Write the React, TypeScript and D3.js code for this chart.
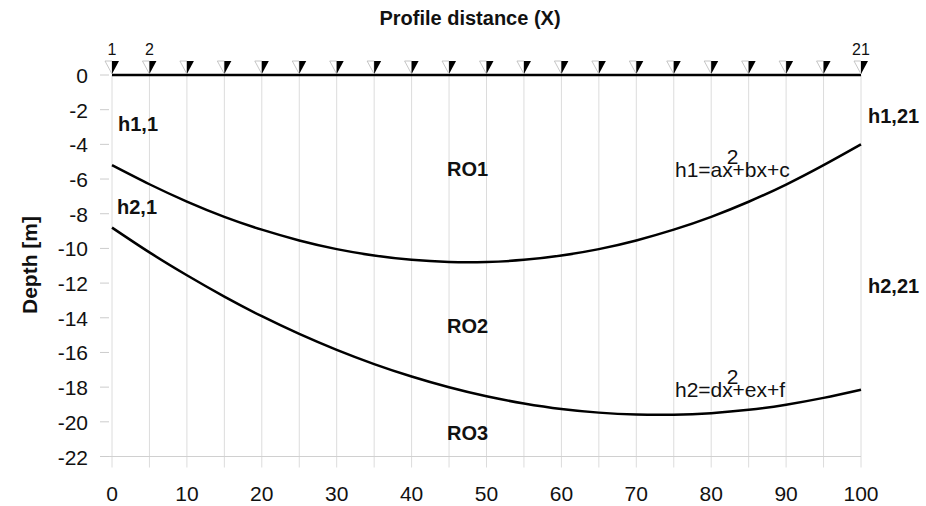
import React from 'react';
import * as d3 from 'd3';

// profile positions (x) and the two boundary depths
const xs = [0, 5, 10, 15, 20, 25, 30, 35, 40, 45, 50, 55, 60, 65, 70, 75, 80, 85, 90, 95, 100];
const h1 = [-5.2, -6.3, -7.3, -8.18, -8.92, -9.54, -10.04, -10.41, -10.66, -10.78, -10.78, -10.66, -10.41, -10.04, -9.54, -8.92, -8.18, -7.31, -6.32, -5.2, -4.0];
const h2 = [-8.8, -10.23, -11.55, -12.78, -13.91, -14.93, -15.85, -16.67, -17.39, -18.01, -18.53, -18.94, -19.26, -19.47, -19.58, -19.59, -19.5, -19.31, -19.01, -18.62, -18.15];
const xTicks = [0, 10, 20, 30, 40, 50, 60, 70, 80, 90, 100];
const yTicks = [0, -2, -4, -6, -8, -10, -12, -14, -16, -18, -20, -22];
const stationLabels = [
  { x: 0, label: '1' },
  { x: 5, label: '2' },
  { x: 100, label: '21' },
];

const W = 926;
const H = 506;
const font = '"Liberation Sans", Arial, sans-serif';

export default function App() {
  const x = d3.scaleLinear().domain([0, 100]).range([112, 861]);
  const y = d3.scaleLinear().domain([0, -22]).range([75, 456.5]);

  const line = d3
    .line<number>()
    .x((_, i) => x(xs[i]))
    .y((d) => y(d))
    .curve(d3.curveNatural);

  const bottom = y(-22);
  const top = y(0);

  return (
    <svg width={W} height={H} style={{ position: 'absolute', left: 0, top: 0, background: '#fff' }} fontFamily={font}>
      {/* vertical grid */}
      {xs.map((v) => (
        <line key={'g' + v} x1={x(v)} x2={x(v)} y1={top} y2={bottom + 11} stroke="#dcdcdc" strokeWidth={1} />
      ))}
      <line x1={100} x2={x(100)} y1={bottom} y2={bottom} stroke="#d0d0d0" strokeWidth={1.2} />
      {yTicks.map((v) => (
        <g key={'y' + v}>
          <line x1={100} x2={109} y1={y(v)} y2={y(v)} stroke="#cccccc" strokeWidth={1} />
          <text x={88} y={y(v) + 8} textAnchor="end" fontSize={21} fill="#111">
            {v}
          </text>
        </g>
      ))}
      {xTicks.map((v) => (
        <text key={'x' + v} x={x(v)} y={501} textAnchor="middle" fontSize={21} fill="#111">
          {v}
        </text>
      ))}

      {/* surface line and stations */}
      <line x1={x(0)} x2={x(100)} y1={top} y2={top} stroke="#000" strokeWidth={2.5} />
      {xs.map((v) => {
        const px = x(v);
        return (
          <g key={'s' + v}>
            <path d={`M${px - 7},61 L${px},61 L${px},74 Z`} fill="#fff" stroke="#b8b8b8" strokeWidth={0.8} />
            <path d={`M${px},61 L${px + 7},61 L${px},74 Z`} fill="#000" />
          </g>
        );
      })}
      {stationLabels.map((s) => (
        <text key={'l' + s.label} x={x(s.x)} y={55} textAnchor="middle" fontSize={16} fill="#111">
          {s.label}
        </text>
      ))}

      {/* boundaries */}
      <path d={line(h1) || ''} fill="none" stroke="#000" strokeWidth={2.5} />
      <path d={line(h2) || ''} fill="none" stroke="#000" strokeWidth={2.5} />

      {/* labels */}
      <g fontWeight="bold" fontSize={20} fill="#111">
        <text x={118} y={131}>h1,1</text>
        <text x={117} y={214}>h2,1</text>
        <text x={868} y={123}>h1,21</text>
        <text x={868} y={293}>h2,21</text>
        <text x={447} y={176}>RO1</text>
        <text x={447} y={333}>RO2</text>
        <text x={447} y={440}>RO3</text>
      </g>
      <g fontSize={21} fill="#111">
        <text x={675} y={177}>
          h1=ax<tspan dx={-6} dy={-13}>2</tspan>
          <tspan dx={-6} dy={13}>+bx+c</tspan>
        </text>
        <text x={675} y={397}>
          h2=dx<tspan dx={-6} dy={-13}>2</tspan>
          <tspan dx={-6} dy={13}>+ex+f</tspan>
        </text>
      </g>

      <text x={470} y={25} textAnchor="middle" fontWeight="bold" fontSize={20} fill="#111">
        Profile distance (X)
      </text>
      <text
        transform={`translate(37,265) rotate(-90)`}
        textAnchor="middle"
        fontWeight="bold"
        fontSize={21}
        fill="#111"
      >
        Depth [m]
      </text>
    </svg>
  );
}
